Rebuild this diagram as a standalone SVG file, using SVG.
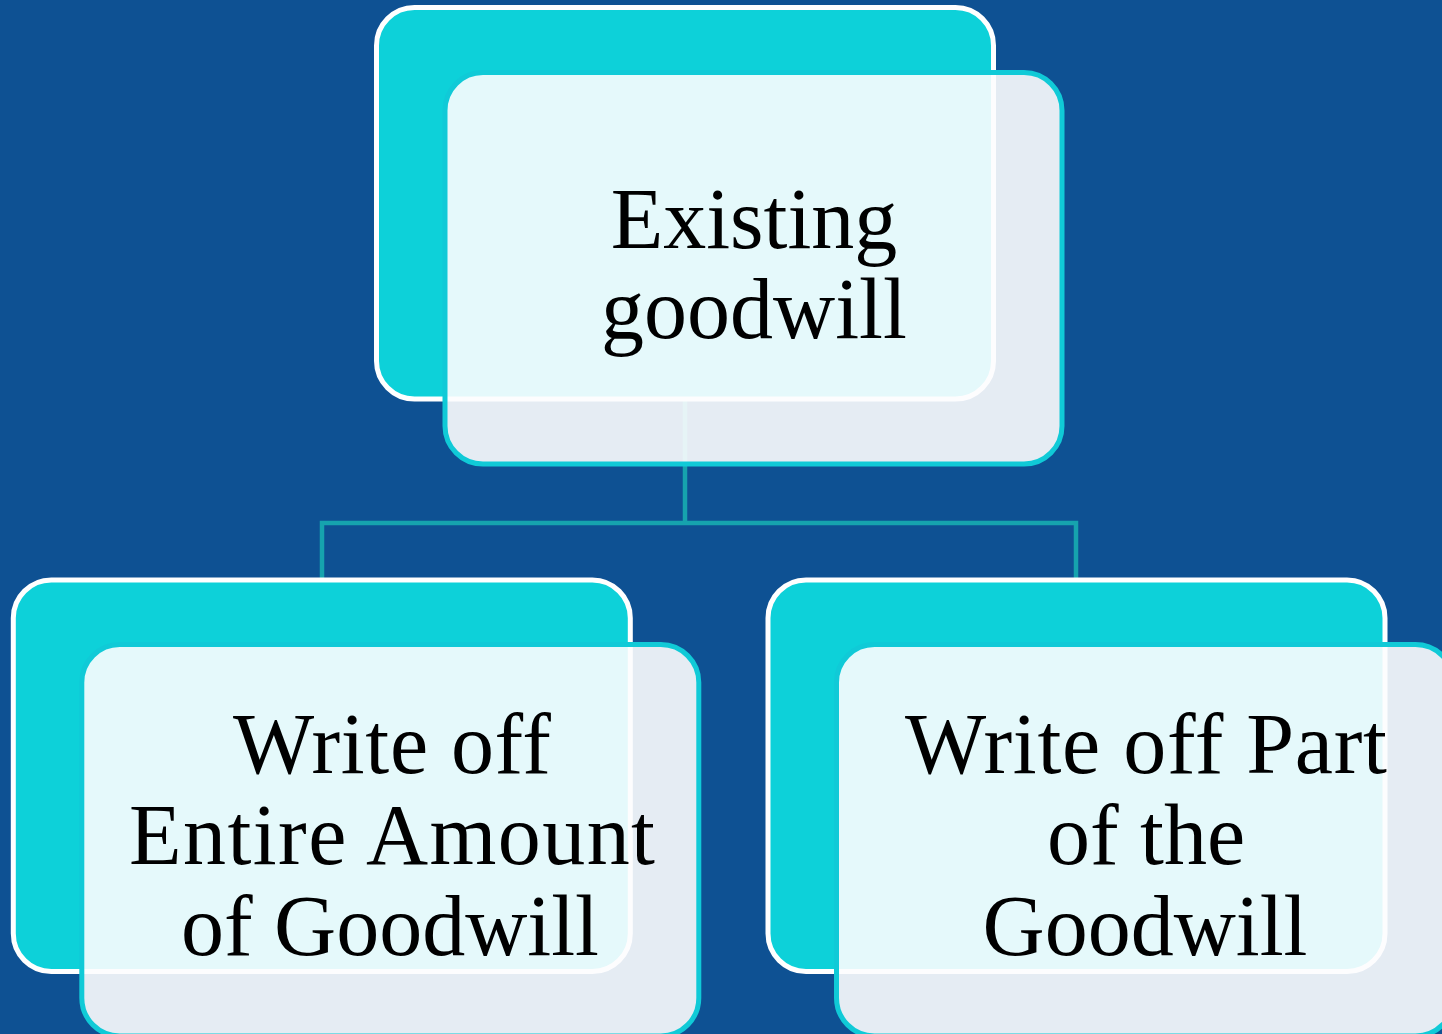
<svg xmlns="http://www.w3.org/2000/svg" width="1442" height="1034" viewBox="0 0 1442 1034">
<style>
.bg{fill:#0E5193}
.back{fill:#0DD1D9;stroke:#FFFFFF;stroke-width:5}
.front{fill:#FDFDFE;fill-opacity:0.9;stroke:#10CAD7;stroke-width:5}
.conn{fill:none;stroke:#16A3AE;stroke-width:4.5}
.lbl{font-family:"Liberation Serif","Times New Roman",serif;font-size:86px;fill:#000000;text-anchor:middle}
</style>
<rect class="bg" x="0" y="0" width="1442" height="1034"/>
<g id="connectors">
<path class="conn" d="M685 399 V523 M322 580 V523 H1076 V580"/>
</g>
<g id="node-existing">
<rect class="back" x="376.5" y="7.5" width="617" height="391.5" rx="38"/>
<rect class="front" x="445" y="72.5" width="617" height="391.5" rx="38"/>
<text class="lbl" x="754" y="248">Existing</text>
<text class="lbl" x="754" y="338">goodwill</text>
</g>
<g id="node-entire">
<rect class="back" x="13.3" y="580" width="617" height="391.5" rx="38"/>
<rect class="front" x="81.8" y="644.5" width="617" height="391.5" rx="38"/>
<text class="lbl" x="392" y="773" textLength="318" lengthAdjust="spacing">Write off</text>
<text class="lbl" x="392" y="864" textLength="526" lengthAdjust="spacing">Entire Amount</text>
<text class="lbl" x="390" y="955">of Goodwill</text>
</g>
<g id="node-part">
<rect class="back" x="768" y="580" width="617" height="391.5" rx="38"/>
<rect class="front" x="836.5" y="644.5" width="617" height="391.5" rx="38"/>
<text class="lbl" x="1146" y="773" textLength="482" lengthAdjust="spacing">Write off Part</text>
<text class="lbl" x="1146" y="864">of the</text>
<text class="lbl" x="1145" y="955">Goodwill</text>
</g>
</svg>
